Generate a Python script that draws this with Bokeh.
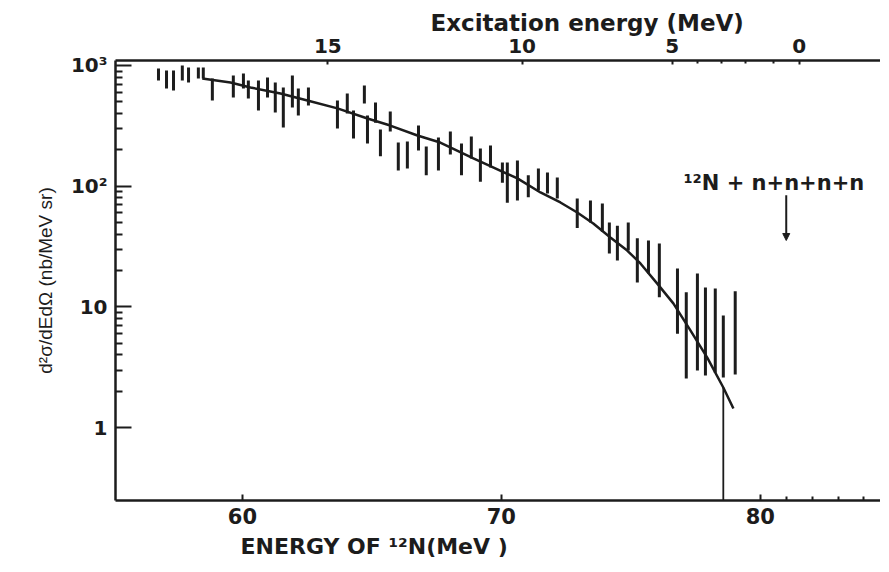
from bokeh.plotting import figure
from bokeh.models import LinearAxis, FixedTicker, Title, Label, Arrow, NormalHead
from bokeh.embed import file_html
from bokeh.resources import INLINE

# ---- data ----
energy = [56.76, 57.07, 57.34, 57.68, 57.92, 58.30, 58.49, 58.84, 59.65, 60.04,
          60.23, 60.62, 60.97, 61.27, 61.58, 61.93, 62.16, 62.55, 63.67, 64.05,
          64.29, 64.71, 64.83, 65.14, 65.33, 65.71, 66.02, 66.37, 66.80, 67.10,
          67.57, 68.03, 68.46, 68.84, 69.19, 69.58, 70.04, 70.23, 70.62, 71.04,
          71.43, 71.78, 72.16, 72.93, 73.44, 73.90, 74.17, 74.48, 74.90, 75.25,
          75.68, 76.10, 76.80, 77.14, 77.57, 77.88, 78.26, 78.57, 79.03]
err_low = [752, 645, 621, 752, 723, 780, 780, 513, 543, 645,
           533, 424, 543, 408, 306, 449, 385, 466, 301, 400,
           248, 484, 226, 335, 177, 284, 135, 140, 198, 123,
           135, 183, 123, 170, 109, 143, 107, 73, 76, 81,
           92, 87, 79, 45, 50, 42, 27.7, 24.2, 29.3, 15.9,
           18.9, 12.0, 6.0, 2.55, 2.97, 2.70, 2.85, 2.60, 2.75]
err_high = [944, 909, 909, 1000, 962, 962, 962, 780, 827, 859,
            752, 752, 796, 723, 658, 827, 645, 658, 513, 586,
            424, 683, 385, 494, 295, 416, 230, 235, 318, 213,
            253, 284, 226, 258, 205, 217, 157, 157, 163, 123,
            140, 130, 118, 79, 76, 72, 50, 47, 50, 37,
            35.5, 33.5, 20.8, 13.2, 18.9, 14.5, 14.2, 8.5, 13.5]

curve_x = [58.45, 59.54, 60.31, 61.47, 62.51, 63.67, 64.83, 65.71, 66.76, 67.64,
           68.92, 70.62, 71.51, 72.28, 72.93, 73.55, 74.21, 74.86, 75.37, 76.02,
           76.64, 77.30, 77.95, 78.57, 78.96]
curve_y = [780, 723, 658, 586, 513, 441, 364, 318, 263, 230,
           170, 116, 88.7, 73.3, 60.6, 49.1, 37.6, 29.3, 22.9, 15.6,
           10.7, 6.4, 3.8, 2.15, 1.44]

energy_ticks = [60, 70, 80]
energy_minor = [81, 82, 83, 84]
exc_tick_pos = [63.3, 70.8, 76.6, 81.5]
exc_tick_labels = ["15", "10", "5", "0"]
exc_minor = [77.57, 78.49, 79.42, 80.50]
y_ticks = [1, 10, 100, 1000]
y_tick_labels = ["1", "10", "10\u00b2", "10\u00b3"]
y_minor = [2, 3, 4, 5, 6, 7, 8, 9, 20, 30, 40, 50, 60, 70, 80, 90,
           200, 300, 400, 500, 600, 700, 800, 900]

cutoff_x = 78.57
cutoff_y = 2.15
threshold_x = 81.0
threshold_y_from = 84
threshold_y_to = 35.5

X_MIN, X_MAX = 55.1, 84.64
Y_MIN, Y_MAX = 0.249, 1100

INK = "#1c1c1c"
FONT = "DejaVu Sans"

p = figure(width=880, height=564, x_range=(X_MIN, X_MAX), y_range=(Y_MIN, Y_MAX),
           y_axis_type="log", output_backend="svg", toolbar_location=None,
           min_border_left=115, min_border_top=60, min_border_bottom=64,
           min_border_right=0)
p.outline_line_color = None
p.xgrid.visible = False
p.ygrid.visible = False
p.background_fill_color = "white"

# error bars
p.segment(x0=energy, y0=err_low, x1=energy, y1=err_high, line_width=3, line_color=INK)
# fitted curve
p.line(curve_x, curve_y, line_width=2.5, line_color=INK)
# end-point line
p.segment(x0=[cutoff_x], y0=[Y_MIN], x1=[cutoff_x], y1=[cutoff_y], line_width=1.8, line_color=INK)

# threshold arrow
p.add_layout(Arrow(end=NormalHead(size=7, fill_color=INK, line_color=INK),
                   x_start=threshold_x, y_start=threshold_y_from,
                   x_end=threshold_x, y_end=threshold_y_to,
                   line_width=2, line_color=INK))
p.add_layout(Label(x=77.03, y=107, text="\u00b9\u00b2N + n+n+n+n", text_font=FONT,
                   text_font_style="bold", text_font_size="21px", text_color=INK,
                   text_baseline="middle"))

# bottom axis
xb = p.below[0]
xb.ticker = FixedTicker(ticks=energy_ticks, minor_ticks=energy_minor)
xb.axis_line_width = 2.5
xb.axis_line_color = INK
xb.major_tick_in = 6
xb.major_tick_out = 0
xb.minor_tick_in = 4
xb.minor_tick_out = 0
xb.major_tick_line_width = 2
xb.minor_tick_line_width = 2
xb.major_tick_line_color = INK
xb.minor_tick_line_color = INK
xb.major_label_text_font = FONT
xb.major_label_text_font_style = "bold"
xb.major_label_text_font_size = "21px"
xb.major_label_text_color = INK
xb.major_label_standoff = 7

# left axis
yl = p.left[0]
yl.ticker = FixedTicker(ticks=y_ticks, minor_ticks=y_minor)
yl.major_label_overrides = dict(zip(y_ticks, y_tick_labels))
yl.axis_line_width = 2.5
yl.axis_line_color = INK
yl.major_tick_in = 16
yl.major_tick_out = 0
yl.minor_tick_in = 7
yl.minor_tick_out = 0
yl.major_tick_line_width = 2
yl.minor_tick_line_width = 2
yl.major_tick_line_color = INK
yl.minor_tick_line_color = INK
yl.major_label_text_font = FONT
yl.major_label_text_font_style = "bold"
yl.major_label_text_font_size = "20px"
yl.major_label_text_color = INK
yl.major_label_standoff = 8
yl.axis_label = "d\u00b2\u03c3/dEd\u03a9 (nb/MeV sr)"
yl.axis_label_text_font = "Liberation Sans"
yl.axis_label_text_font_style = "normal"
yl.axis_label_text_font_size = "19px"
yl.axis_label_text_color = INK
yl.axis_label_standoff = 12

# top axis: excitation energy
xt = LinearAxis(ticker=FixedTicker(ticks=exc_tick_pos, minor_ticks=exc_minor),
                major_label_overrides=dict(zip(exc_tick_pos, exc_tick_labels)))
xt.axis_line_width = 2.5
xt.axis_line_color = INK
xt.major_tick_in = 4
xt.major_tick_out = 0
xt.minor_tick_in = 3
xt.minor_tick_out = 0
xt.major_tick_line_width = 2
xt.minor_tick_line_width = 2
xt.major_tick_line_color = INK
xt.minor_tick_line_color = INK
xt.major_label_text_font = FONT
xt.major_label_text_font_style = "bold"
xt.major_label_text_font_size = "20px"
xt.major_label_text_color = INK
xt.major_label_standoff = 8
p.add_layout(xt, "above")

p.add_layout(Title(text="Excitation energy (MeV)", align="left", offset=315,
                   text_font=FONT, text_font_style="bold", text_font_size="23px",
                   text_color=INK, standoff=0), "above")
p.add_layout(Title(text="ENERGY OF \u00b9\u00b2N(MeV )", align="left", offset=125,
                   text_font=FONT, text_font_style="bold", text_font_size="22px",
                   text_color=INK, standoff=10), "below")

open("out.html", "w").write(file_html(p, INLINE))
